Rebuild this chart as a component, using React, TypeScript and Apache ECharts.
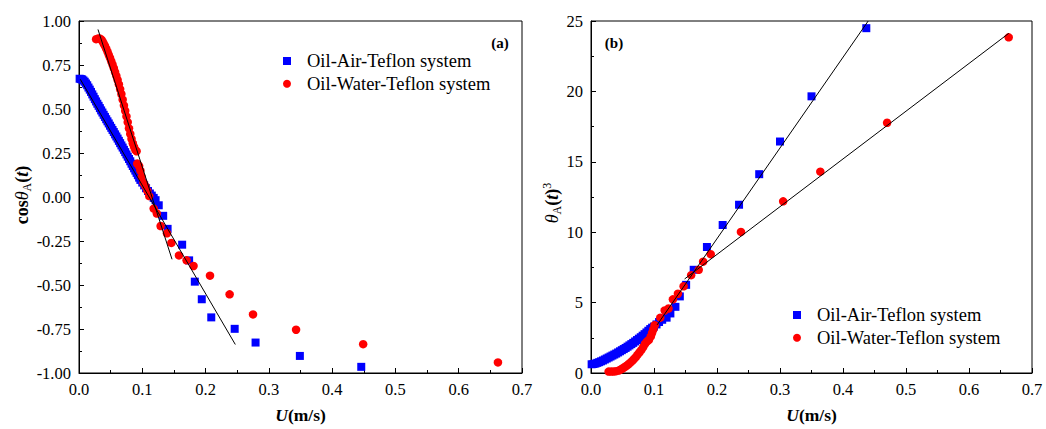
import React, { useEffect, useRef } from "react";
import * as echarts from "echarts";

// ---------- data ----------
const seriesNames = ["Oil-Air-Teflon system", "Oil-Water-Teflon system"];

const xRange = [0, 0.7];
const cosRange = [-1, 1];
const thetaRange = [0, 25];

// (a) cos θA(t) vs U
const airCos: number[][] = [
  [0.001, 0.672], [0.003, 0.670], [0.005, 0.668], [0.007, 0.662], [0.009, 0.655],
  [0.011, 0.645], [0.013, 0.635], [0.015, 0.622], [0.017, 0.610], [0.019, 0.597],
  [0.021, 0.583], [0.023, 0.570], [0.025, 0.556], [0.027, 0.543], [0.029, 0.530],
  [0.031, 0.518], [0.033, 0.505], [0.035, 0.492], [0.037, 0.480], [0.039, 0.467],
  [0.041, 0.455], [0.043, 0.442], [0.045, 0.430], [0.047, 0.418], [0.049, 0.405],
  [0.051, 0.393], [0.053, 0.381], [0.055, 0.369], [0.057, 0.356], [0.059, 0.344],
  [0.061, 0.332], [0.063, 0.319], [0.065, 0.306], [0.067, 0.293], [0.069, 0.281],
  [0.071, 0.268], [0.073, 0.255], [0.075, 0.242], [0.077, 0.229], [0.079, 0.216],
  [0.081, 0.203], [0.083, 0.189], [0.085, 0.176], [0.087, 0.163], [0.089, 0.150],
  [0.091, 0.137], [0.093, 0.124], [0.095, 0.110], [0.097, 0.097], [0.100, 0.082],
  [0.103, 0.066], [0.106, 0.050], [0.109, 0.034], [0.112, 0.020], [0.115, 0.008],
  [0.118, -0.005], [0.121, -0.018],
  [0.126, -0.047], [0.133, -0.107], [0.140, -0.181], [0.163, -0.271], [0.174, -0.360],
  [0.183, -0.481], [0.194, -0.581], [0.209, -0.684], [0.246, -0.749], [0.279, -0.827],
  [0.349, -0.903], [0.446, -0.965],
];
const waterCos: number[][] = [
  [0.027, 0.897], [0.030, 0.900], [0.033, 0.900], [0.035, 0.895], [0.037, 0.885],
  [0.039, 0.872], [0.041, 0.858], [0.043, 0.843], [0.045, 0.826], [0.047, 0.808],
  [0.049, 0.790], [0.051, 0.771], [0.053, 0.752], [0.055, 0.732], [0.057, 0.710],
  [0.059, 0.688], [0.061, 0.665], [0.063, 0.640], [0.065, 0.613], [0.067, 0.585],
  [0.069, 0.553], [0.071, 0.520], [0.073, 0.490], [0.075, 0.458], [0.077, 0.425],
  [0.079, 0.390], [0.081, 0.358], [0.083, 0.330], [0.085, 0.305], [0.087, 0.285],
  [0.089, 0.268], [0.091, 0.260], [0.092, 0.190], [0.095, 0.176], [0.097, 0.150],
  [0.099, 0.115], [0.102, 0.080], [0.105, 0.062], [0.108, 0.035], [0.111, 0.005],
  [0.118, -0.066], [0.123, -0.094], [0.129, -0.165], [0.139, -0.206], [0.146, -0.261],
  [0.158, -0.332], [0.170, -0.360], [0.181, -0.392], [0.207, -0.447], [0.238, -0.553],
  [0.275, -0.667], [0.343, -0.754], [0.449, -0.836], [0.662, -0.940],
];
const airCosFit: number[][] = [[0.002, 0.669], [0.247, -0.838]];
const waterCosFit: number[][] = [[0.030, 0.952], [0.147, -0.354]];

// (b) θA(t)^3 vs U
const airTheta: number[][] = [
  [0.001, 0.62], [0.004, 0.64], [0.007, 0.67], [0.010, 0.72], [0.013, 0.77],
  [0.016, 0.83], [0.019, 0.89], [0.022, 0.96], [0.025, 1.03], [0.028, 1.10],
  [0.031, 1.17], [0.034, 1.24], [0.037, 1.31], [0.040, 1.38], [0.043, 1.46],
  [0.046, 1.54], [0.049, 1.62], [0.052, 1.70], [0.055, 1.78], [0.058, 1.87],
  [0.061, 1.96], [0.064, 2.05], [0.067, 2.14], [0.070, 2.24], [0.073, 2.34],
  [0.076, 2.44], [0.079, 2.54], [0.082, 2.65], [0.085, 2.76], [0.088, 2.88],
  [0.091, 3.00], [0.094, 3.12], [0.097, 3.22], [0.100, 3.30], [0.104, 3.45],
  [0.108, 3.62], [0.113, 3.78],
  [0.120, 3.93], [0.126, 4.23], [0.134, 4.70], [0.141, 5.44], [0.151, 6.26],
  [0.163, 7.33], [0.184, 8.95], [0.209, 10.51], [0.235, 11.95], [0.267, 14.12],
  [0.300, 16.44], [0.350, 19.65], [0.437, 24.49],
];
const waterTheta: number[][] = [
  [0.028, 0.10], [0.032, 0.10], [0.036, 0.11], [0.040, 0.13], [0.044, 0.17],
  [0.047, 0.24], [0.050, 0.32], [0.053, 0.41], [0.056, 0.50], [0.059, 0.60],
  [0.062, 0.72], [0.065, 0.84], [0.068, 0.98], [0.071, 1.13], [0.074, 1.30],
  [0.077, 1.47], [0.080, 1.64], [0.083, 1.85], [0.086, 2.08], [0.089, 2.25],
  [0.092, 2.35], [0.095, 2.60], [0.097, 2.85], [0.099, 3.10], [0.101, 3.40],
  [0.110, 3.93], [0.117, 4.44], [0.123, 4.58], [0.130, 5.23], [0.138, 5.63],
  [0.147, 6.16], [0.159, 6.95], [0.171, 7.33], [0.178, 7.91], [0.190, 8.44],
  [0.238, 10.02], [0.305, 12.19], [0.364, 14.30], [0.470, 17.77], [0.663, 23.84],
];
const airThetaFit: number[][] = [[0.105, 3.42], [0.44, 25.0]];
const waterThetaFit: number[][] = [[0.1486, 6.68], [0.663, 24.12]];

// ---------- styling ----------
const FONT = "'Liberation Serif', 'Times New Roman', serif";
const BLUE = "#0000ff";
const RED = "#ff0000";

function xAxis(gridIndex: number) {
  return {
    type: "value",
    gridIndex,
    min: xRange[0],
    max: xRange[1],
    interval: 0.1,
    name: "{i|U}{b|(m/s)}",
    nameLocation: "middle",
    nameGap: 33,
    nameTextStyle: {
      fontFamily: FONT,
      rich: {
        i: { fontFamily: FONT, fontSize: 17.5, fontWeight: "bold", fontStyle: "italic", color: "#000" },
        b: { fontFamily: FONT, fontSize: 17.5, fontWeight: "bold", color: "#000" },
      },
    },
    axisLine: { show: true, onZero: false, lineStyle: { color: "#000", width: 1 } },
    axisTick: { show: true, inside: true, length: 5, lineStyle: { color: "#000" } },
    minorTick: { show: true, splitNumber: 2, length: 3, lineStyle: { color: "#000" } },
    splitLine: { show: false },
    axisLabel: {
      margin: 8,
      fontFamily: FONT,
      fontSize: 16.5,
      color: "#000",
      formatter: (v: number) => v.toFixed(1),
    },
  };
}

function yAxis(gridIndex: number, range: number[], interval: number, digits: number) {
  return {
    type: "value",
    gridIndex,
    min: range[0],
    max: range[1],
    interval,
    axisLine: { show: true, onZero: false, lineStyle: { color: "#000", width: 1 } },
    axisTick: { show: true, inside: true, length: 5, lineStyle: { color: "#000" } },
    minorTick: { show: true, splitNumber: 2, length: 3, lineStyle: { color: "#000" } },
    splitLine: { show: false },
    axisLabel: {
      margin: 8,
      fontFamily: FONT,
      fontSize: 16.5,
      color: "#000",
      formatter: (v: number) => v.toFixed(digits),
    },
  };
}

function scatter(name: string, data: number[][], idx: number, air: boolean) {
  return {
    type: "scatter",
    name,
    xAxisIndex: idx,
    yAxisIndex: idx,
    data,
    symbol: air ? "rect" : "circle",
    symbolSize: air ? 8 : 8.5,
    itemStyle: { color: air ? BLUE : RED, opacity: 1 },
    z: 2,
  };
}

function fit(name: string, data: number[][], idx: number) {
  return {
    type: "line",
    name,
    xAxisIndex: idx,
    yAxisIndex: idx,
    data,
    symbol: "none",
    clip: true,
    lineStyle: { color: "#000", width: 1 },
    z: 3,
    silent: true,
  };
}

function legend(left: number, top: number) {
  return {
    data: seriesNames,
    orient: "vertical",
    left,
    top,
    itemWidth: 8,
    itemHeight: 8,
    itemGap: 2.7,
    textStyle: {
      fontFamily: FONT,
      fontSize: 18.5,
      lineHeight: 20,
      color: "#000",
      padding: [0, 0, 0, 11],
    },
  };
}

const labelRich = {
  b: { fontFamily: FONT, fontSize: 18, fontWeight: "bold", fill: "#000", lineHeight: 22 },
  th: { fontFamily: FONT, fontSize: 18, fontStyle: "italic", fill: "#000", lineHeight: 22 },
  bi: { fontFamily: FONT, fontSize: 18, fontWeight: "bold", fontStyle: "italic", fill: "#000", lineHeight: 22 },
  sub: { fontFamily: FONT, fontSize: 12, fill: "#000", verticalAlign: "bottom" },
  sup: { fontFamily: FONT, fontSize: 12, fill: "#000", verticalAlign: "top" },
};

export default function App() {
  const ref = useRef<HTMLDivElement>(null);
  useEffect(() => {
    if (!ref.current) return;
    const chart = echarts.init(ref.current, undefined, { renderer: "svg" });
    chart.setOption({
      animation: false,
      backgroundColor: "#fff",
      textStyle: { fontFamily: FONT },
      grid: [
        { left: 79, top: 21, width: 443, height: 358, show: true, borderColor: "#000", borderWidth: 1, backgroundColor: "transparent" },
        { left: 591, top: 21, width: 441, height: 358, show: true, borderColor: "#000", borderWidth: 1, backgroundColor: "transparent" },
      ],
      xAxis: [xAxis(0), xAxis(1)],
      yAxis: [yAxis(0, cosRange, 0.25, 2), yAxis(1, thetaRange, 5, 0)],
      legend: [legend(278, 46), legend(788, 300)],
      series: [
        scatter(seriesNames[0], airCos, 0, true),
        scatter(seriesNames[1], waterCos, 0, false),
        fit("air fit (a)", airCosFit, 0),
        fit("water fit (a)", waterCosFit, 0),
        scatter(seriesNames[0], airTheta, 1, true),
        scatter(seriesNames[1], waterTheta, 1, false),
        fit("air fit (b)", airThetaFit, 1),
        fit("water fit (b)", waterThetaFit, 1),
      ],
      graphic: [
        {
          type: "text",
          x: 500,
          y: 43,
          style: { text: "(a)", fontFamily: FONT, fontSize: 15, fontWeight: "bold", fill: "#000", align: "center", verticalAlign: "middle" },
        },
        {
          type: "text",
          x: 614,
          y: 43,
          style: { text: "(b)", fontFamily: FONT, fontSize: 15, fontWeight: "bold", fill: "#000", align: "center", verticalAlign: "middle" },
        },
        {
          type: "text",
          x: 22,
          y: 195,
          rotation: Math.PI / 2,
          style: {
            text: "{b|cos}{th|θ}{sub|A}{b|(}{bi|t}{b|)}",
            rich: labelRich,
            align: "center",
            verticalAlign: "middle",
          },
        },
        {
          type: "text",
          x: 552,
          y: 203,
          rotation: Math.PI / 2,
          style: {
            text: "{th|θ}{sub|A}{b|(}{bi|t}{b|)}{sup|3}",
            rich: labelRich,
            align: "center",
            verticalAlign: "middle",
          },
        },
      ],
    });
    return () => chart.dispose();
  }, []);
  return <div ref={ref} style={{ position: "absolute", left: 0, top: 0, width: 1046, height: 429 }} />;
}
